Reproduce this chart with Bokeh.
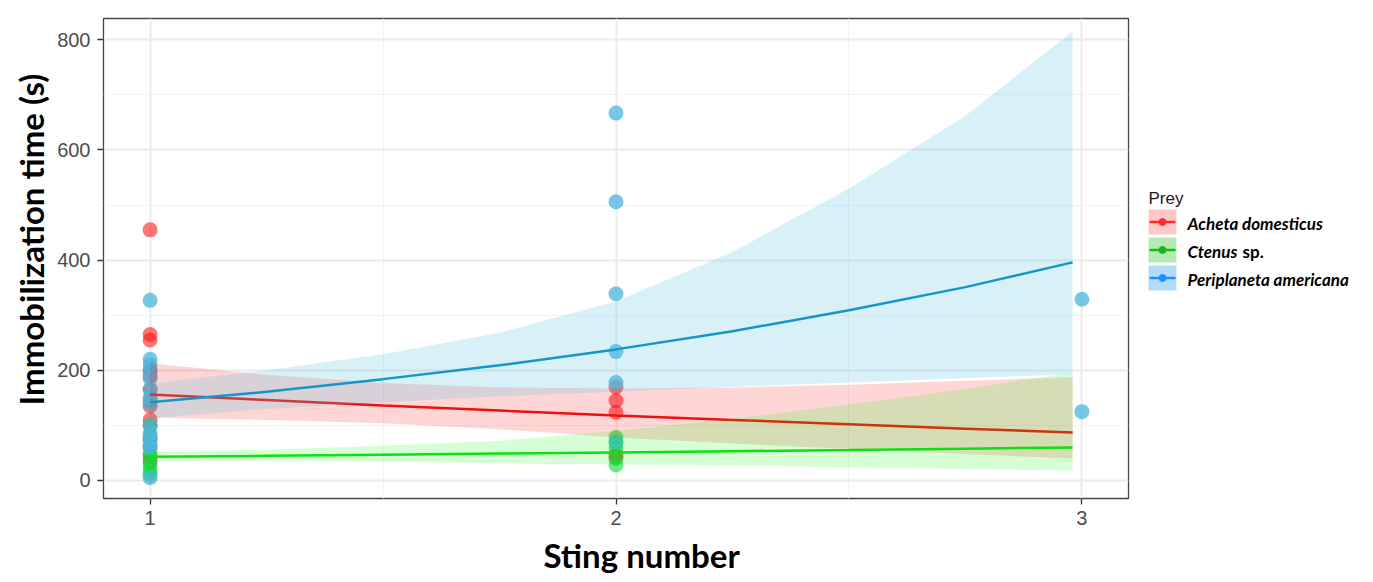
from bokeh.plotting import figure
from bokeh.models import Range1d, FixedTicker, ColumnDataSource, Title
from bokeh.layouts import row
from bokeh.core.properties import value
from bokeh.embed import file_html
from bokeh.resources import INLINE

# ---------------- data ----------------
prey = ["Acheta domesticus", "Ctenus", "Periplaneta americana"]
prey_suffix = ["", "sp.", ""]

acheta_sting = [1]*13 + [2]*5
acheta_time = [455, 265, 255, 200, 190, 165, 145, 135, 110, 100, 75, 45, 35,
               170, 145, 124, 47, 42]
ctenus_sting = [1]*9 + [2]*5
ctenus_time = [100, 80, 60, 50, 42, 30, 22, 15, 10,
               78, 68, 58, 40, 28]
peri_sting = [1]*14 + [2]*6 + [3]*2
peri_time = [327, 220, 210, 200, 185, 165, 150, 140, 100, 85, 75, 65, 60, 5,
             667, 506, 339, 234, 178, 70,
             329, 125]

fit_x = [1, 1.25, 1.5, 1.75, 2, 2.25, 2.5, 2.75, 2.98]
acheta_fit = [156, 146, 136, 127, 118, 110, 102, 94, 87]
acheta_lo = [114, 110, 104, 93, 78, 67, 57, 48, 40]
acheta_hi = [213, 192, 177, 169, 167, 169, 174, 181, 188]
ctenus_fit = [43, 44.8, 46.8, 48.9, 51, 53.2, 55.4, 57.8, 60]
ctenus_lo = [36, 36, 34, 31, 29, 27, 24, 21, 18]
ctenus_hi = [52, 56, 63, 72, 90, 112, 138, 166, 196]
peri_fit = [142, 161, 184, 209, 238, 271, 309, 351, 396]
peri_lo = [113, 130, 142, 153, 161, 170, 178, 186, 193]
peri_hi = [176, 200, 229, 268, 325, 415, 530, 662, 815]

x_ticks = [1, 2, 3]
y_ticks = [0, 200, 400, 600, 800]
x_title = "Sting number"
y_title = "Immobilization time (s)"

# ---------------- styles ----------------
pt_colors = ["#FF1A1A", "#10D840", "#4AB5DB"]
pt_alpha = [0.6, 0.6, 0.75]
line_colors = ["#F01010", "#10E010", "#1596C8"]
fill_colors = ["#FF0000", "#00FF00", "#5BC0DE"]
fill_alpha = [0.16, 0.16, 0.24]
key_colors = ["#FFC8C8", "#B4EBB4", "#B4DCFA"]
key_line_colors = ["#FF2A2A", "#18B818", "#1E90FF"]

H = 580
TOP, BOTTOM = 18, 498
p = figure(width=1138, height=H, x_range=Range1d(0.9, 3.1),
           y_range=Range1d(-32.7, 838.7), output_backend="svg",
           toolbar_location=None, min_border_left=103, min_border_right=10,
           min_border_top=TOP, min_border_bottom=H - BOTTOM)
p.background_fill_color = "white"
p.border_fill_color = "white"
p.outline_line_color = "#444444"
p.outline_line_width = 1.3

p.xaxis.ticker = FixedTicker(ticks=x_ticks, minor_ticks=[1.5, 2.5])
p.yaxis.ticker = FixedTicker(ticks=y_ticks, minor_ticks=[100, 300, 500, 700])
for ax in (p.xaxis[0], p.yaxis[0]):
    ax.axis_line_color = None
    ax.major_tick_line_color = "#333333"
    ax.major_tick_line_width = 1.3
    ax.major_tick_in = 0
    ax.major_tick_out = 6
    ax.minor_tick_line_color = None
    ax.major_label_text_font = "Liberation Sans"
    ax.major_label_text_font_size = "20px"
    ax.major_label_text_color = "#4D4D4D"
p.xaxis.major_label_standoff = 6
p.yaxis.major_label_standoff = 7

# axis titles (placed as side titles so they can be offset like the reference)
xt = Title(text=x_title, align="left", offset=440, standoff=10,
           text_font="Lato", text_font_style="bold", text_font_size="33px",
           text_color="black")
p.add_layout(xt, "below")
yt = Title(text=y_title, align="left", offset=93, standoff=7,
           text_font="Lato", text_font_style="bold", text_font_size="33px",
           text_color="black")
p.add_layout(yt, "left")

for g in (p.xgrid[0], p.ygrid[0]):
    g.grid_line_color = "#EBEBEB"
    g.grid_line_width = 2
    g.minor_grid_line_color = "#F2F2F2"
    g.minor_grid_line_width = 1

stings = [acheta_sting, ctenus_sting, peri_sting]
times = [acheta_time, ctenus_time, peri_time]
fits = [acheta_fit, ctenus_fit, peri_fit]
los = [acheta_lo, ctenus_lo, peri_lo]
his = [acheta_hi, ctenus_hi, peri_hi]

# points
for i in range(3):
    p.scatter(stings[i], times[i], size=15, color=pt_colors[i],
              alpha=pt_alpha[i], line_color=None)

# ribbons and lines
for i in range(3):
    src = ColumnDataSource(dict(x=fit_x, lo=los[i], hi=his[i], fit=fits[i]))
    p.varea(x="x", y1="lo", y2="hi", source=src, fill_color=fill_colors[i],
            fill_alpha=fill_alpha[i])
    p.line(x="x", y="fit", source=src, line_color=line_colors[i], line_width=2.5)

# ---------------- legend panel (separate figure, pixel-like coords) ----------------
LX0 = 1138
LW = 1373 - LX0
lg = figure(width=LW, height=H, x_range=Range1d(LX0, LX0 + LW),
            y_range=Range1d(BOTTOM, TOP), x_axis_type=None, y_axis_type=None,
            output_backend="svg", toolbar_location=None,
            min_border_left=0, min_border_right=0,
            min_border_top=TOP, min_border_bottom=H - BOTTOM)
lg.grid.visible = False
lg.outline_line_color = None
lg.background_fill_color = "white"
lg.border_fill_color = "white"

key_left, key_w, key_h, row0, row_step = 1148, 28, 25, 209, 28
lg.text(x=[key_left], y=[198], text=["Prey"], text_font=value("Liberation Sans"),
        text_font_size="17px", text_color="#1A1A1A", text_baseline="alphabetic")
for i in range(3):
    top = row0 + i * row_step
    cy = top + key_h / 2
    lg.quad(left=[key_left], right=[key_left + key_w], top=[top], bottom=[top + key_h],
            fill_color=key_colors[i], line_color=None)
    lg.segment(x0=[key_left + 1], x1=[key_left + key_w - 1], y0=[cy], y1=[cy],
               line_color=key_line_colors[i], line_width=2.5)
    lg.scatter(x=[key_left + key_w / 2], y=[cy], size=7, color=key_line_colors[i])
    lg.text(x=[key_left + key_w + 11], y=[cy + 1], text=[prey[i]],
            text_font=value("Lato"), text_font_style="bold italic",
            text_font_size="17px", text_color="black", text_baseline="middle")
    if prey_suffix[i]:
        lg.text(x=[key_left + key_w + 11 + 55], y=[cy + 1], text=[prey_suffix[i]],
                text_font=value("Lato"), text_font_style="bold",
                text_font_size="17px", text_color="black", text_baseline="middle")

layout = row(p, lg, spacing=0)
open("out.html", "w").write(file_html(layout, INLINE))
